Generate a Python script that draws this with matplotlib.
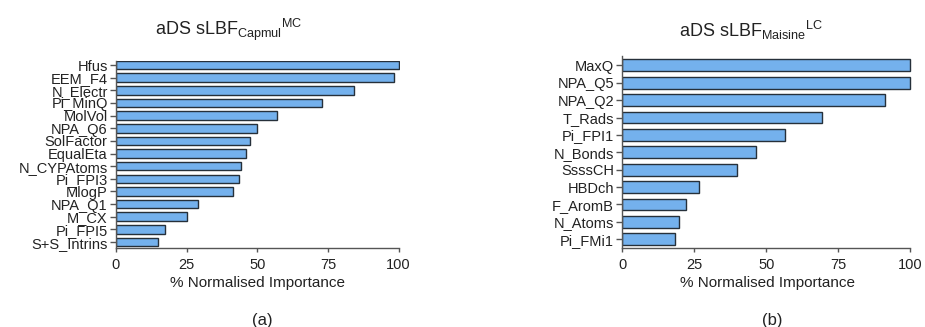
import matplotlib
matplotlib.use("Agg")
import matplotlib.pyplot as plt

plt.rcParams["font.family"] = ["Liberation Sans", "DejaVu Sans"]
plt.rcParams["mathtext.fontset"] = "custom"
plt.rcParams["mathtext.rm"] = "Liberation Sans"
plt.rcParams["mathtext.it"] = "Liberation Sans"
plt.rcParams["mathtext.bf"] = "Liberation Sans"

# Panel (a): aDS sLBF Capmul MC
labels_a = ["Hfus", "EEM_F4", "N_Electr", "Pi_MinQ", "MolVol", "NPA_Q6",
            "SolFactor", "EqualEta", "N_CYPAtoms", "Pi_FPI3", "MlogP",
            "NPA_Q1", "M_CX", "Pi_FPI5", "S+S_Intrins"]
values_a = [100, 98.2, 84.2, 72.8, 56.9, 49.9, 47.4, 46.0, 44.3, 43.7,
            41.3, 29.1, 25.2, 17.4, 14.7]

# Panel (b): aDS sLBF Maisine LC
labels_b = ["MaxQ", "NPA_Q5", "NPA_Q2", "T_Rads", "Pi_FPI1", "N_Bonds",
            "SsssCH", "HBDch", "F_AromB", "N_Atoms", "Pi_FMi1"]
values_b = [100, 100, 91.3, 69.3, 56.6, 46.5, 39.9, 26.6, 22.2, 19.7, 18.2]

xticks = [0, 25, 50, 75, 100]

BAR = "#74b1ed"
EDGE = "#26303a"
SPINE = "#555555"
TXT = "#222222"

fig = plt.figure(figsize=(9.25, 3.27), dpi=100)


def panel(rect, labels, values, ylim, title, title_x, tag, tag_x):
    ax = fig.add_axes(rect)
    n = len(labels)
    pos = list(range(n - 1, -1, -1))
    ax.barh(pos, values, height=0.68, color=BAR, edgecolor=EDGE, linewidth=1.0)
    ax.set_yticks(pos)
    ax.set_yticklabels(labels, fontsize=10.5, color=TXT)
    ax.set_xlim(0, 100.5)
    ax.set_ylim(*ylim)
    ax.set_xticks(xticks)
    ax.set_xticklabels([str(t) for t in xticks], fontsize=10.5, color=TXT)
    ax.set_xlabel("% Normalised Importance", fontsize=11, color=TXT, labelpad=3)
    for s in ("top", "right"):
        ax.spines[s].set_visible(False)
    for s in ("left", "bottom"):
        ax.spines[s].set_color(SPINE)
        ax.spines[s].set_linewidth(1.0)
    ax.spines["bottom"].set_bounds(0, 100)
    ax.tick_params(axis="y", length=4, width=1.0, color=SPINE, pad=2)
    ax.tick_params(axis="x", length=3, width=1.0, color=SPINE, pad=4)
    fig.text(title_x, 1 - 30 / 327, title, ha="center", va="center",
             fontsize=13, color=TXT)
    fig.text(tag_x, 1 - 320 / 327, tag, ha="center", va="center",
             fontsize=12, color=TXT)
    return ax


panel([116 / 925, 1 - 248 / 327, 284 / 925, 187 / 327],
      labels_a, values_a, (-0.47, 14.32),
      r"aDS sLBF$_{\mathrm{Capmul}}$${}^{\mathrm{MC}}$", 229 / 925,
      "(a)", 262 / 925)

panel([622.3 / 925, 1 - 248.3 / 327, 289.4 / 925, 192 / 327],
      labels_b, values_b, (-0.52, 10.52),
      r"aDS sLBF$_{\mathrm{Maisine}}$${}^{\mathrm{LC}}$", 751 / 925,
      "(b)", 772 / 925)

fig.savefig("out.png", dpi=100, facecolor="white")
